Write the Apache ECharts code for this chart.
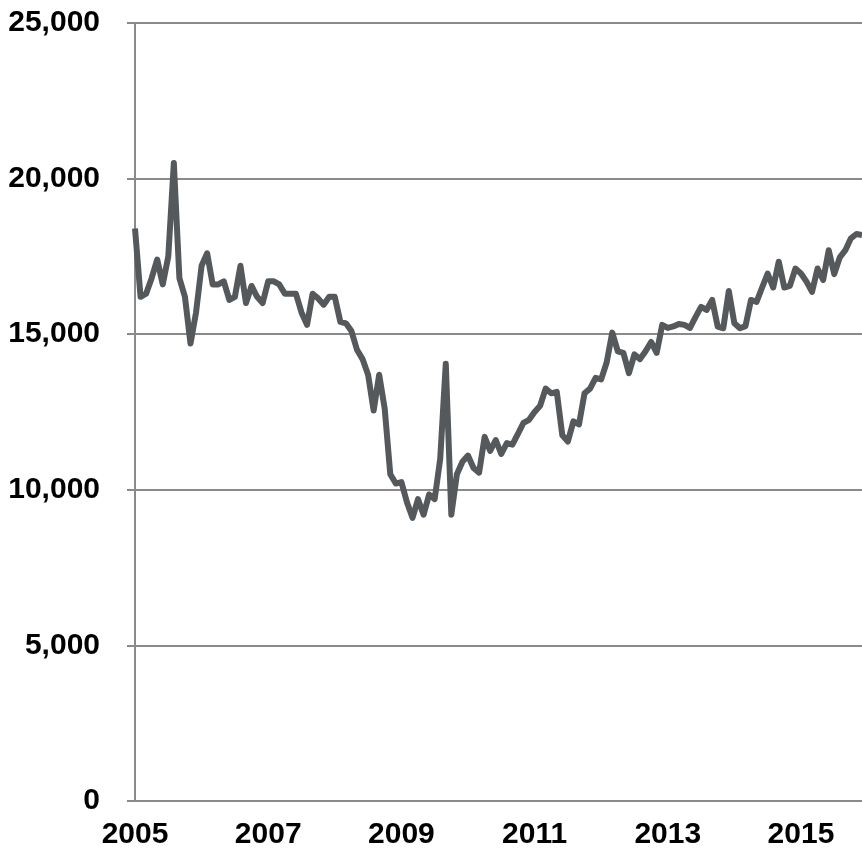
<!DOCTYPE html>
<html>
<head>
<meta charset="utf-8">
<script src="https://cdn.jsdelivr.net/npm/echarts@6/dist/echarts.min.js"></script>
<style>
  html, body { margin: 0; padding: 0; background: #fff; }
  #chart { width: 862px; height: 866px; }
</style>
</head>
<body>
<div id="chart"></div>
<script>
// monthly values, Jan 2005 onwards
const values2005 = [18400, 16200, 16300, 16800, 17400, 16600, 17500, 20500, 16800, 16200, 14700, 15700]
const values2006 = [17200, 17600, 16600, 16600, 16700, 16100, 16200, 17200, 16000, 16550, 16200, 16000]
const values2007 = [16700, 16700, 16600, 16300, 16300, 16300, 15700, 15300, 16300, 16150, 15950, 16200]
const values2008 = [16200, 15400, 15350, 15100, 14500, 14200, 13700, 12550, 13700, 12600, 10500, 10200]
const values2009 = [10250, 9600, 9100, 9700, 9200, 9850, 9700, 11000, 14050, 9200, 10500, 10900]
const values2010 = [11100, 10700, 10550, 11700, 11250, 11600, 11150, 11500, 11450, 11800, 12150, 12250]
const values2011 = [12500, 12700, 13250, 13100, 13150, 11750, 11550, 12200, 12100, 13100, 13250, 13600]
const values2012 = [13550, 14100, 15050, 14450, 14400, 13750, 14350, 14200, 14450, 14750, 14400, 15300]
const values2013 = [15200, 15250, 15330, 15300, 15200, 15550, 15880, 15780, 16100, 15240, 15190, 16390]
const values2014 = [15350, 15190, 15260, 16100, 16040, 16500, 16950, 16500, 17330, 16500, 16550, 17110]
const values2015 = [16950, 16690, 16360, 17110, 16740, 17700, 16930, 17470, 17700, 18080, 18220, 18190]

const series = [].concat(values2005, values2006, values2007, values2008, values2009,
  values2010, values2011, values2012, values2013, values2014, values2015)

// category per month, "YYYY-MM"
const months = series.map((v, i) => (2005 + Math.floor(i / 12)) + '-' + String(i % 12 + 1).padStart(2, '0'))

const yTicks = [0, 5000, 10000, 15000, 20000, 25000]

const labelFont = {
  fontFamily: '"Liberation Sans", Arial, sans-serif',
  fontWeight: 'bold',
  fontSize: 30,
  color: '#000'
}

const chart = echarts.init(document.getElementById('chart'))
chart.setOption({
  animation: false,
  grid: {
    left: 135,
    right: 0,
    top: 23,
    bottom: 65,
    containLabel: false,
    outerBoundsMode: 'none'
  },
  xAxis: {
    type: 'category',
    data: months,
    boundaryGap: false,
    axisLine: { show: true, lineStyle: { color: '#8a8a8a', width: 2 } },
    axisTick: { show: false },
    splitLine: { show: false },
    axisLabel: Object.assign({
      margin: 19,
      interval: (idx) => idx % 24 === 0,
      formatter: (val) => val.slice(0, 4)
    }, labelFont)
  },
  yAxis: {
    type: 'value',
    min: yTicks[0],
    max: yTicks[yTicks.length - 1],
    interval: 5000,
    axisLine: { show: true, lineStyle: { color: '#8a8a8a', width: 2 } },
    axisTick: { show: true, length: 8, lineStyle: { color: '#8a8a8a', width: 2 } },
    splitLine: { show: true, lineStyle: { color: '#8a8a8a', width: 2 } },
    axisLabel: Object.assign({
      margin: 35,
      formatter: (v) => v.toLocaleString('en-US')
    }, labelFont)
  },
  series: [{
    type: 'line',
    data: series,
    showSymbol: false,
    symbol: 'none',
    lineStyle: { color: '#55595c', width: 6, join: 'round' },
    z: 3
  }]
})
</script>
</body>
</html>
